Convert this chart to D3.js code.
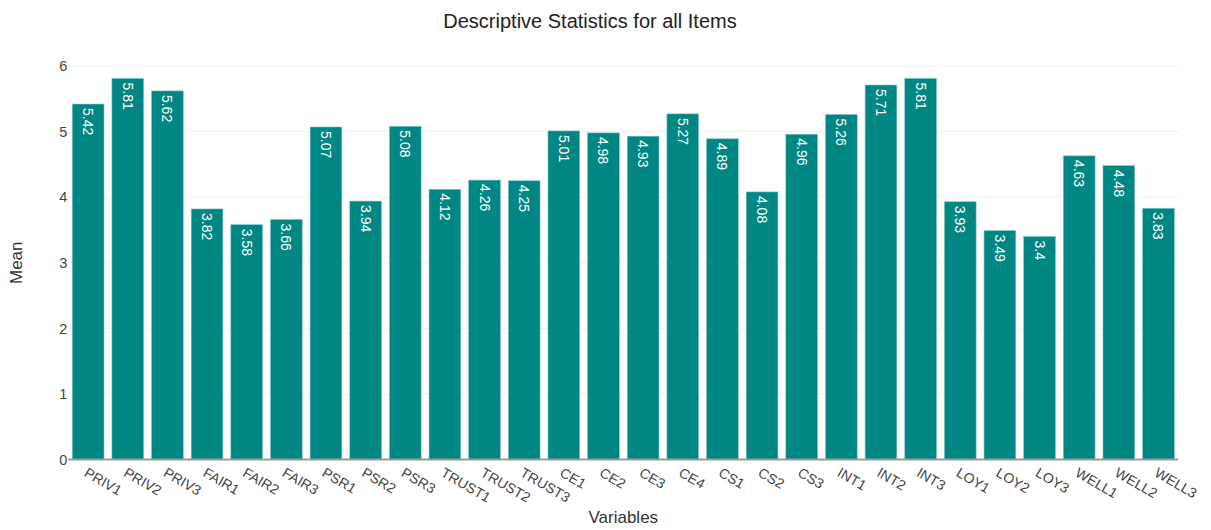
<!DOCTYPE html>
<html>
<head>
<meta charset="utf-8">
<script src="https://cdn.jsdelivr.net/npm/d3@7"></script>
<style>
  html, body { margin: 0; padding: 0; background: #fff; }
  svg { display: block; font-family: "Liberation Sans", Arial, sans-serif; }
</style>
</head>
<body>
<svg id="chart" width="1211" height="530"></svg>
<script>
// Item means, one per survey variable
const categories = ["PRIV1","PRIV2","PRIV3","FAIR1","FAIR2","FAIR3","PSR1","PSR2","PSR3",
  "TRUST1","TRUST2","TRUST3","CE1","CE2","CE3","CE4","CS1","CS2","CS3",
  "INT1","INT2","INT3","LOY1","LOY2","LOY3","WELL1","WELL2","WELL3"];
const means = [5.42,5.81,5.62,3.82,3.58,3.66,5.07,3.94,5.08,
  4.12,4.26,4.25,5.01,4.98,4.93,5.27,4.89,4.08,4.96,
  5.26,5.71,5.81,3.93,3.49,3.4,4.63,4.48,3.83];
const yTicks = [0,1,2,3,4,5,6];

const svg = d3.select("#chart");
const plotLeft = 68.3, plotRight = 1178.3, plotTop = 66, plotBottom = 459.5;

const x = d3.scaleBand().domain(categories).range([plotLeft, plotRight]).paddingInner(0.2).paddingOuter(0.1);
const y = d3.scaleLinear().domain([0, 6]).range([plotBottom, plotTop]);

// gridlines
svg.append("g").selectAll("line").data(yTicks.filter(t => t > 0)).join("line")
  .attr("x1", plotLeft).attr("x2", plotRight)
  .attr("y1", d => y(d)).attr("y2", d => y(d))
  .attr("stroke", "#eeeeee").attr("stroke-width", 1);

// y tick labels
svg.append("g").selectAll("text").data(yTicks).join("text")
  .attr("x", plotLeft - 1).attr("y", d => y(d))
  .attr("dy", "0.36em").attr("text-anchor", "end")
  .attr("font-size", 14.5).attr("fill", "#444")
  .text(d => d);

// bars
svg.append("g").selectAll("rect").data(means).join("rect")
  .attr("x", (d, i) => x(categories[i]))
  .attr("width", x.bandwidth())
  .attr("y", d => y(d))
  .attr("height", d => y(0) - y(d))
  .attr("fill", "#008783")
  .attr("stroke", "#7fc4c1").attr("stroke-width", 0.6);

// value labels inside bars, rotated to read downward
svg.append("g").selectAll("text").data(means).join("text")
  .attr("transform", (d, i) => `translate(${x(categories[i]) + x.bandwidth() / 2},${y(d) + 4}) rotate(90)`)
  .attr("dy", "0.36em")
  .attr("text-anchor", "start")
  .attr("font-size", 14).attr("fill", "#fff")
  .text(d => d);

// baseline
svg.append("line").attr("x1", plotLeft).attr("x2", plotRight)
  .attr("y1", plotBottom).attr("y2", plotBottom)
  .attr("stroke", "#9a9a9a").attr("stroke-width", 2);

// x tick labels, angled
svg.append("g").selectAll("text").data(categories).join("text")
  .attr("transform", d => `translate(${x(d) + x.bandwidth() / 2},${plotBottom + 7.5}) rotate(30)`)
  .attr("dy", "0.71em")
  .attr("text-anchor", "start")
  .attr("font-size", 14).attr("fill", "#444")
  .text(d => d);

// titles
svg.append("text").attr("x", 590).attr("y", 28).attr("text-anchor", "middle")
  .attr("font-size", 20).attr("fill", "#222").text("Descriptive Statistics for all Items");
svg.append("text").attr("x", (plotLeft + plotRight) / 2).attr("y", 523).attr("text-anchor", "middle")
  .attr("font-size", 17).attr("fill", "#333").text("Variables");
svg.append("text").attr("transform", `translate(16,${(plotTop + plotBottom) / 2}) rotate(-90)`)
  .attr("dy", "0.36em")
  .attr("text-anchor", "middle")
  .attr("font-size", 17).attr("fill", "#333").text("Mean");
</script>
</body>
</html>
